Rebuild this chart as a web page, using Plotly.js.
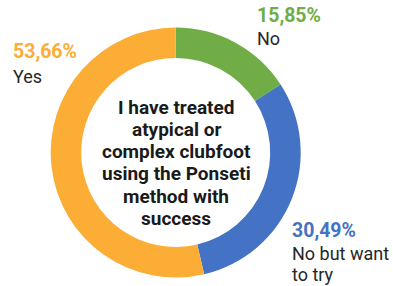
<!DOCTYPE html>
<html>
<head>
<meta charset="utf-8">
<script src="https://cdn.plot.ly/plotly-3.0.1.min.js"></script>
<style>html,body{margin:0;padding:0;background:#fff;}#chart{width:393px;height:286px;}</style>
</head>
<body>
<div id="chart"></div>
<script>
var labels = ['No', 'No but want to try', 'Yes'];
var values = [15.85, 30.49, 53.66];
var colors = ['#70AD47', '#4472C4', '#FBAD36'];
var centerText = ['I have treated', 'atypical or', 'complex clubfoot', 'using the Ponseti', 'method with', 'success'];

var W = 393, H = 286;
function px(x) { return x / W; }
function py(y) { return 1 - y / H; }
function pct(v) { return v.toFixed(2).replace('.', ',') + '%'; }

var trace = {
  type: 'pie',
  labels: labels,
  values: values,
  sort: false,
  direction: 'clockwise',
  rotation: 0,
  hole: 0.756,
  textinfo: 'none',
  hoverinfo: 'label+percent',
  marker: {colors: colors, line: {width: 0}},
  domain: {x: [px(50.7), px(300.7)], y: [py(278), py(27)]},
  showlegend: false
};

var font = 'Roboto, "Noto Sans", sans-serif';
var nameColor = '#262626';
var labelPos = [
  {x: 255, py: 16, lines: [{y: 38.5}]},
  {x: 290, py: 230, lines: [{y: 253.5}, {y: 274.5}]},
  {x: 11, py: 51.5, lines: [{y: 76}]}
];
var nameLines = [['No'], ['No but want', 'to try'], ['Yes']];

var annotations = [];
for (var i = 0; i < labels.length; i++) {
  var p = labelPos[i];
  annotations.push({
    xref: 'paper', yref: 'paper', x: px(p.x), y: py(p.py),
    xanchor: 'left', yanchor: 'middle', showarrow: false,
    text: '<b>' + pct(values[i]) + '</b>',
    font: {family: font, size: 19.5, color: colors[i]}
  });
  for (var j = 0; j < nameLines[i].length; j++) {
    annotations.push({
      xref: 'paper', yref: 'paper', x: px(p.x), y: py(p.lines[j].y),
      xanchor: 'left', yanchor: 'middle', showarrow: false,
      text: nameLines[i][j],
      font: {family: font, size: 18, color: nameColor}
    });
  }
}
var lineTop = 107, lineStep = 22.3;
for (var k = 0; k < centerText.length; k++) {
  annotations.push({
    xref: 'paper', yref: 'paper', x: px(176), y: py(lineTop + k * lineStep),
    xanchor: 'center', yanchor: 'middle', showarrow: false,
    text: '<b>' + centerText[k] + '</b>',
    font: {family: font, size: 19, color: '#1a1a1a'}
  });
}

var layout = {
  width: W, height: H,
  margin: {l: 0, r: 0, t: 0, b: 0},
  paper_bgcolor: '#ffffff',
  plot_bgcolor: '#ffffff',
  annotations: annotations
};

Plotly.newPlot('chart', [trace], layout, {displayModeBar: false, staticPlot: true});
</script>
</body>
</html>
